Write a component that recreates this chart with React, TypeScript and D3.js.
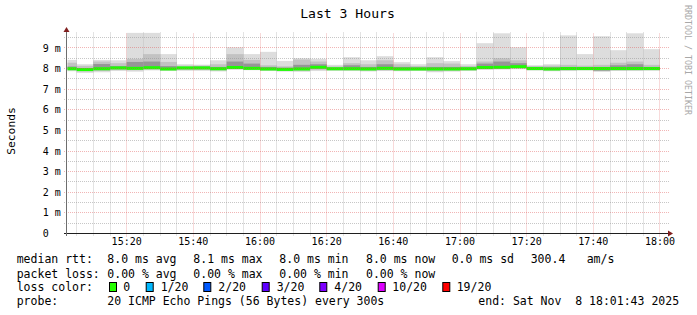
import React from 'react';
import * as d3 from 'd3';

// ---------- data ----------
const intervals = [
  '15:00','15:05','15:10','15:15','15:20','15:25','15:30','15:35','15:40','15:45','15:50','15:55',
  '16:00','16:05','16:10','16:15','16:20','16:25','16:30','16:35','16:40','16:45','16:50','16:55',
  '17:00','17:05','17:10','17:15','17:20','17:25','17:30','17:35','17:40','17:45','17:50','17:55',
];
// ms values per 5-minute interval (smoke envelope layers)
const rttMax = [8.42,8.21,8.42,8.40,9.73,9.73,8.70,8.21,8.19,8.40,9.03,8.70,8.81,8.37,8.50,8.47,8.18,8.55,
  8.40,8.60,8.31,8.21,8.55,8.36,8.21,9.23,9.71,9.03,8.16,8.21,9.61,8.70,9.57,8.89,9.71,8.94];
const rttHi2 = [8.28,8.13,8.34,8.26,8.47,8.70,8.32,8.14,8.14,8.21,8.70,8.42,8.16,8.11,8.44,8.34,8.10,8.26,
  8.21,8.40,8.21,8.12,8.26,8.24,8.12,8.34,8.50,8.40,8.12,8.14,8.18,8.14,8.18,8.28,8.34,8.18];
const rttHi3 = [8.10,8.02,8.22,8.12,8.32,8.34,8.12,8.08,8.10,8.08,8.34,8.24,8.08,8.04,8.18,8.21,8.05,8.16,
  8.08,8.21,8.08,8.06,8.08,8.08,8.06,8.24,8.34,8.26,8.06,8.06,8.08,8.06,8.08,8.16,8.21,8.08];
const rttMedian = [7.99,7.95,7.99,8.03,8.01,8.04,7.98,8.03,8.03,7.99,8.05,8.01,7.98,7.96,7.98,8.06,7.99,7.99,
  7.98,8.01,7.98,7.98,7.98,7.98,7.99,8.05,8.06,8.09,8.00,7.98,8.00,8.00,8.00,8.00,8.00,8.00];
const rttLo3 = [7.96,7.92,7.95,7.99,7.97,8.00,7.95,7.98,7.98,7.95,8.01,7.97,7.94,7.92,7.94,8.01,7.95,7.95,
  7.94,7.95,7.94,7.94,7.93,7.94,7.95,8.01,8.02,8.04,7.96,7.94,7.96,7.96,7.90,7.93,7.96,7.96];
const rttLo2 = [7.92,7.86,7.88,7.93,7.92,7.96,7.92,7.93,7.93,7.91,7.98,7.95,7.91,7.89,7.89,7.94,7.92,7.92,
  7.90,7.91,7.90,7.91,7.87,7.89,7.92,7.97,7.98,8.00,7.93,7.90,7.92,7.93,7.87,7.91,7.92,7.93];
const rttMin = [7.87,7.79,7.82,7.88,7.85,7.91,7.88,7.89,7.89,7.86,7.94,7.92,7.88,7.85,7.84,7.88,7.89,7.88,
  7.86,7.88,7.87,7.88,7.82,7.85,7.88,7.94,7.95,7.97,7.90,7.87,7.88,7.90,7.85,7.89,7.88,7.89];

const yTickValues = [0,1,2,3,4,5,6,7,8,9];
const timeTicks = ['15:20','15:40','16:00','16:20','16:40','17:00','17:20','17:40','18:00'];

const title = 'Last 3 Hours';
const yAxisTitle = 'Seconds';
const watermark = 'RRDTOOL / TOBI OETIKER';

const rttRowLabel = 'median rtt:';
const rttStats = ['8.0 ms avg','8.1 ms max','8.0 ms min','8.0 ms now','0.0 ms sd','300.4','am/s'];
const lossRowLabel = 'packet loss:';
const lossStats = ['0.00 % avg','0.00 % max','0.00 % min','0.00 % now'];
const colorRowLabel = 'loss color:';
const lossLabels = ['0','1/20','2/20','3/20','4/20','10/20','19/20'];
const lossColors = ['#26ff00','#00b8ff','#0059ff','#5e00ff','#7e00ff','#dd00ff','#ff0000'];
const probeRowLabel = 'probe:';
const probeText = '20 ICMP Echo Pings (56 Bytes) every 300s';
const endText = 'end: Sat Nov  8 18:01:43 2025';

// ---------- layout ----------
const W = 697, H = 315;
const PX0 = 67, PX1 = 667, PY0 = 233.5, PY1 = 33.5;
const FONT = "'DejaVu Sans Mono', monospace";
const statX = [107.3, 193.3, 279.3, 366, 451.7, 530.7, 586.7];
const boxX = [109, 145.7, 203.3, 261.7, 319.3, 377.7, 442.3];
const boxTextX = [123.3, 160.7, 218.3, 276.7, 334.3, 392.3, 456.7];
const rowY = [263.3, 277.5, 291, 305.2];

const day = (s: string) => {
  const [h, m] = s.split(':').map(Number);
  return new Date(2025, 10, 8, h, m, 0);
};

export default function App() {
  const x = d3.scaleTime()
    .domain([new Date(2025, 10, 8, 15, 2, 6), new Date(2025, 10, 8, 18, 2, 6)])
    .range([PX0, PX1]);
  const y = d3.scaleLinear().domain([0, 9.7]).range([PY0, PY1]);

  const crisp = (v: number) => Math.floor(v) + 0.5;

  const bars = intervals.map((s, i) => {
    const t0 = day(s);
    const t1 = d3.timeMinute.offset(t0, 5);
    const x0 = Math.max(PX0 + 0.5, x(t0));
    const x1 = x(t1);
    return { i, x0, x1 };
  });

  const layers: { lo: number[]; hi: number[]; color: string }[] = [
    { lo: rttMin, hi: rttMax, color: '#dddddd' },
    { lo: rttLo2, hi: rttHi2, color: '#c2c2c2' },
    { lo: rttLo3, hi: rttHi3, color: '#969696' },
  ];

  // grid
  const minorY = d3.range(1, 20).map(k => k * 0.5).filter(v => v % 1 !== 0 && y(v) >= PY1);
  const majorY = yTickValues.filter(v => v > 0);
  const gridStart = day('15:05');
  const minorX = d3.timeMinute.every(5)!.range(gridStart, day('18:01'))
    .filter(d => d.getMinutes() % 20 !== 0);
  const majorX = timeTicks.map(day);

  const gridCol = 'rgba(143,143,143,0.5)';
  const mgridCol = 'rgba(222,79,79,0.42)';

  return (
    <svg width={W} height={H} style={{ position: 'absolute', left: 0, top: 0, background: '#fff' }}
      fontFamily={FONT}>
      <rect x={0} y={0} width={W} height={H} fill="#ffffff" />

      {/* smoke */}
      {layers.map((L, li) => (
        <g key={li}>
          {bars.map(b => (
            <rect key={b.i} x={b.x0} width={b.x1 - b.x0}
              y={y(L.hi[b.i])} height={y(L.lo[b.i]) - y(L.hi[b.i])} fill={L.color} />
          ))}
        </g>
      ))}
      {/* median */}
      {bars.map(b => (
        <rect key={'m' + b.i} x={b.x0} width={b.x1 - b.x0}
          y={y(rttMedian[b.i]) - 1.5} height={3} fill="#1cff00" />
      ))}

      {/* grid */}
      {minorY.map(v => (
        <line key={'hy' + v} x1={64} x2={669} y1={crisp(y(v))} y2={crisp(y(v))}
          stroke={gridCol} strokeDasharray="1,1" />
      ))}
      {majorY.map(v => (
        <line key={'HY' + v} x1={64} x2={669} y1={crisp(y(v))} y2={crisp(y(v))}
          stroke={mgridCol} strokeDasharray="1,1" />
      ))}
      {minorX.map(d => (
        <line key={'vx' + d.getTime()} x1={crisp(x(d))} x2={crisp(x(d))} y1={PY0 + 2} y2={PY1 - 1}
          stroke={gridCol} strokeDasharray="1,1" />
      ))}
      {majorX.map(d => (
        <line key={'VX' + d.getTime()} x1={crisp(x(d))} x2={crisp(x(d))} y1={PY0 + 3} y2={PY1 - 1}
          stroke={mgridCol} strokeDasharray="1,1" />
      ))}

      {/* axes */}
      <line x1={64} x2={670} y1={233.5} y2={233.5} stroke="#1f1f1f" />
      <line x1={66.5} x2={66.5} y1={236} y2={31} stroke="#6e6e6e" />
      <path d="M668,230.5 L673,233.5 L668,236.5 Z" fill="#801f1f" />
      <path d="M63.5,32 L66.5,27 L69.5,32 Z" fill="#801f1f" />

      {/* y tick labels */}
      {yTickValues.map(v => (
        <text key={'yl' + v} x={42.7} y={y(v) + 3.6} fontSize={10} fill="#000">
          {v === 0 ? '0' : `${v} m`}
        </text>
      ))}
      {/* x tick labels */}
      {timeTicks.map(s => (
        <text key={'xl' + s} x={x(day(s))} y={245} fontSize={10} textAnchor="middle" fill="#000">
          {s}
        </text>
      ))}

      {/* titles */}
      <text x={347.5} y={18.4} fontSize={13.1} textAnchor="middle" fill="#000">{title}</text>
      <text transform="translate(15,131) rotate(-90)" fontSize={11.3} textAnchor="middle" fill="#000">
        {yAxisTitle}
      </text>
      <text transform="translate(685.2,5) rotate(90)" fontSize={8.3} fill="#a8a8a8">{watermark}</text>

      {/* legend */}
      <g fontSize={11.5} fill="#000">
        <text x={16.7} y={rowY[0]}>{rttRowLabel}</text>
        {rttStats.map((s, i) => (
          <text key={'rs' + i} x={statX[i]} y={rowY[0]}>{s}</text>
        ))}
        <text x={16.7} y={rowY[1]}>{lossRowLabel}</text>
        {lossStats.map((s, i) => (
          <text key={'ls' + i} x={statX[i]} y={rowY[1]}>{s}</text>
        ))}
        <text x={16.7} y={rowY[2]}>{colorRowLabel}</text>
        {lossLabels.map((s, i) => (
          <g key={'lc' + i}>
            <rect x={boxX[i] + 0.5} y={282.5} width={7} height={9} fill={lossColors[i]} stroke="#000" />
            <text x={boxTextX[i]} y={rowY[2]}>{s}</text>
          </g>
        ))}
        <text x={16.7} y={rowY[3]}>{probeRowLabel}</text>
        <text x={107.3} y={rowY[3]}>{probeText}</text>
        <text x={478.3} y={rowY[3]} style={{ whiteSpace: 'pre' }}>{endText}</text>
      </g>
    </svg>
  );
}
